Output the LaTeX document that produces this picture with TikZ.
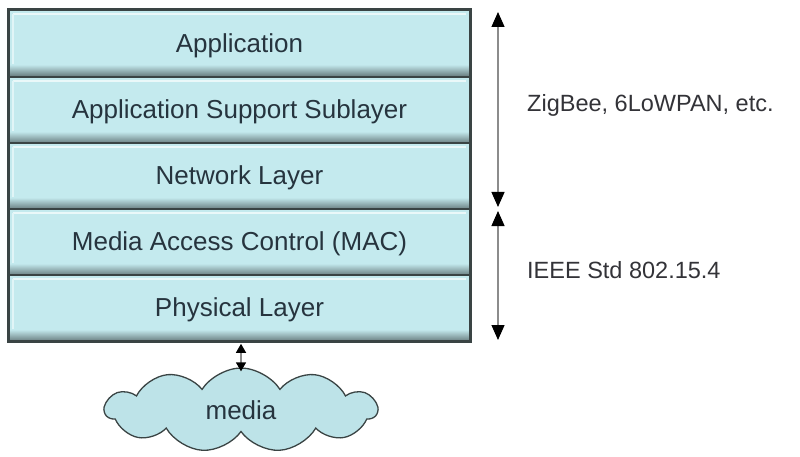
\documentclass[tikz,border=0pt]{standalone}
\usepackage{fontspec}
\setmainfont{Liberation Sans}
\usetikzlibrary{shapes.symbols,arrows.meta,calc}
\definecolor{layerfill}{HTML}{C4EAEE}
\definecolor{cloudfill}{HTML}{BDE3E8}
\definecolor{framecol}{HTML}{3A4444}
\definecolor{textcol}{HTML}{26343E}
\definecolor{labelcol}{HTML}{333338}
\begin{document}
\begin{tikzpicture}[x=1pt,y=-1pt,
  layer/.style={fill=layerfill, draw=framecol, line width=1.6pt,
    minimum width=461pt, minimum height=66pt, inner sep=0pt,
    text height=20.5pt, text depth=3pt,
    text=textcol, font=\fontsize{26}{30}\selectfont,
    path picture={
      \foreach \k [evaluate=\k as \p using int(58+4*\k)] in {0,...,10} {
        \fill[layerfill!\p!black]
          ([yshift=\k pt]path picture bounding box.south west) rectangle
          ([yshift=\k pt+1.2pt]path picture bounding box.south east);
      }
      \draw[white!65!layerfill, line width=2pt]
        ([xshift=4pt,yshift=-4pt]path picture bounding box.north west) --
        ([xshift=-4pt,yshift=-4pt]path picture bounding box.north east);
      \draw[white!50!layerfill, line width=1.5pt]
        ([xshift=4pt,yshift=-4pt]path picture bounding box.north west) --
        ([xshift=4pt,yshift=12pt]path picture bounding box.south west);
    }},
  sidelabel/.style={anchor=base west, text=labelcol, inner sep=0pt,
    font=\fontsize{23.5}{28}\selectfont},
  rarrow/.style={draw=black!45, line width=1.3pt,
    {Triangle[length=15pt,width=13pt,color=black]}-{Triangle[length=15pt,width=13pt,color=black]}},
  sarrow/.style={draw=black!45, line width=1.3pt,
    {Triangle[length=9pt,width=10pt,color=black]}-{Triangle[length=9pt,width=10pt,color=black]}},
  mediacloud/.style={cloud, cloud puffs=11, cloud puff arc=115, aspect=3.2,
    fill=cloudfill, draw=framecol, line width=1.3pt,
    minimum width=272pt, minimum height=84pt, inner sep=0pt,
    text=textcol, font=\fontsize{26}{30}\selectfont}
]
\useasboundingbox (0,0) rectangle (800,457);

\node[layer] (app) at (239.5,43.5) {Application};
\node[layer] (ass) at (239.5,110) {Application Support Sublayer};
\node[layer] (net) at (239.5,176) {Network Layer};
\node[layer] (mac) at (239.5,242) {Media Access Control (MAC)};
\node[layer] (phy) at (239.5,308) {Physical Layer};
\draw[framecol, line width=2.6pt] (app.north west) rectangle (phy.south east);

\node[mediacloud] (media) at (241,410) {media};

\coordinate (z1) at (498,12);
\coordinate (z2) at (498,207);
\coordinate (i1) at (498,211);
\coordinate (i2) at (498,340);
\draw[rarrow] (z1) -- (z2);
\draw[rarrow] (i1) -- (i2);

\draw[sarrow] ([yshift=-2pt]media.north |- phy.south) -- ([yshift=-4pt]media.north);

\node[sidelabel] (zig) at (527,112) {ZigBee, 6LoWPAN, etc.};
\node[sidelabel] (ieee) at (527,278) {IEEE Std 802.15.4};
\end{tikzpicture}
\end{document}
